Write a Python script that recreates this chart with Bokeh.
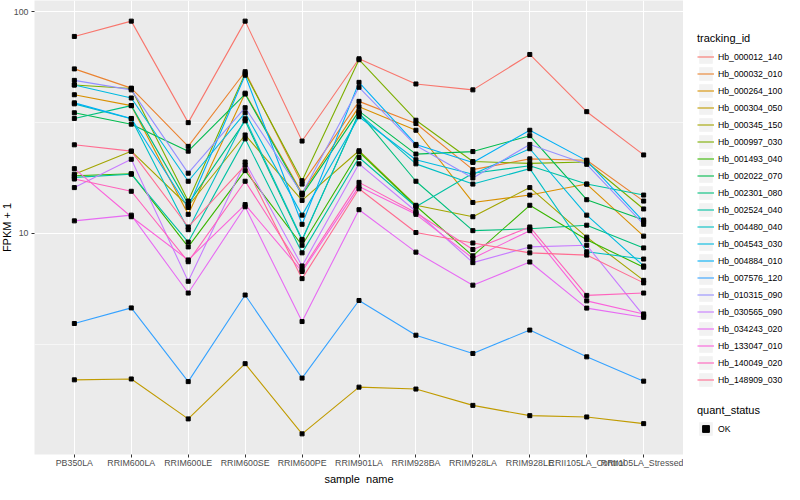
import math
from bokeh.plotting import figure
from bokeh.layouts import row
from bokeh.models import (FactorRange, Range1d, FixedTicker, Legend, LegendItem,
                          PrintfTickFormatter, Title)
from bokeh.embed import file_html
from bokeh.resources import INLINE

samples = ["PB350LA", "RRIM600LA", "RRIM600LE", "RRIM600SE", "RRIM600PE",
           "RRIM901LA", "RRIM928BA", "RRIM928LA", "RRIM928LE",
           "RRII105LA_Control", "RRII105LA_Stressed"]

tracking_ids = ["Hb_000012_140", "Hb_000032_010", "Hb_000264_100", "Hb_000304_050",
                "Hb_000345_150", "Hb_000997_030", "Hb_001493_040", "Hb_002022_070",
                "Hb_002301_080", "Hb_002524_040", "Hb_004480_040", "Hb_004543_030",
                "Hb_004884_010", "Hb_007576_120", "Hb_010315_090", "Hb_030565_090",
                "Hb_034243_020", "Hb_133047_010", "Hb_140049_020", "Hb_148909_030"]

colors = ["#F8766D", "#EA8331", "#D89000", "#C09B00", "#A3A500", "#7CAE00", "#39B600",
          "#00BB4E", "#00BF7D", "#00C1A3", "#00BFC4", "#00BAE0", "#00B0F6", "#35A2FF",
          "#9590FF", "#C77CFF", "#E76BF3", "#FA62DB", "#FF62BC", "#FF6C91"]

# FPKM + 1 per sample, one list per tracking_id
Hb_000012_140 = [77.3, 90.6, 31.6, 90.6, 26.1, 61.3, 47.2, 44.4, 64.1, 35.4, 22.6]
Hb_000032_010 = [55.2, 45.2, 24.7, 53.6, 16.7, 39.4, 31.3, 19.4, 21.7, 21.4, 14.0]
Hb_000264_100 = [42.2, 37.7, 12.2, 42.9, 15.2, 37.3, 29.2, 13.8, 14.9, 16.7, 9.73]
Hb_000304_050 = [2.19, 2.21, 1.46, 2.59, 1.25, 2.03, 1.99, 1.68, 1.51, 1.49, 1.39]
Hb_000345_150 = [18.5, 23.5, 13.3, 27.8, 14.1, 23.6, 13.4, 11.9, 16.1, 9.63, 6.15]
Hb_000997_030 = [46.7, 45.0, 14.0, 52.6, 17.3, 60.7, 32.4, 21.1, 20.7, 21.0, 12.9]
Hb_001493_040 = [18.2, 18.6, 8.70, 19.2, 8.85, 23.3, 13.3, 7.93, 13.4, 9.38, 7.05]
Hb_002022_070 = [35.0, 31.1, 23.5, 42.5, 14.9, 35.6, 22.8, 23.4, 27.6, 14.2, 11.5]
Hb_002301_080 = [33.0, 37.7, 13.6, 32.2, 9.31, 35.0, 17.2, 10.3, 10.5, 10.9, 8.61]
Hb_002524_040 = [17.9, 18.5, 9.15, 26.7, 8.18, 22.0, 13.2, 18.7, 20.2, 16.7, 14.9]
Hb_004480_040 = [38.4, 32.9, 10.4, 32.9, 9.41, 34.7, 20.6, 16.7, 19.6, 8.27, 7.67]
Hb_004543_030 = [46.7, 40.8, 17.2, 35.0, 12.1, 33.6, 21.5, 18.5, 24.1, 12.1, 7.14]
Hb_004884_010 = [38.8, 33.0, 13.1, 51.7, 11.0, 48.0, 25.2, 20.9, 29.2, 21.3, 11.3]
Hb_007576_120 = [3.93, 4.62, 2.15, 5.28, 2.23, 4.99, 3.48, 2.88, 3.67, 2.78, 2.16]
Hb_010315_090 = [49.0, 44.4, 18.7, 36.9, 15.1, 45.6, 24.9, 17.8, 25.2, 20.5, 11.0]
Hb_030565_090 = [16.1, 21.6, 6.09, 21.0, 7.14, 20.6, 12.6, 7.39, 8.70, 8.85, 4.26]
Hb_034243_020 = [11.4, 12.1, 5.39, 13.2, 4.01, 12.8, 8.24, 5.85, 7.44, 4.61, 4.19]
Hb_133047_010 = [19.6, 11.9, 7.60, 13.5, 6.74, 16.3, 12.2, 7.73, 10.3, 4.97, 4.34]
Hb_140049_020 = [17.6, 15.5, 7.46, 17.2, 6.86, 17.0, 12.4, 8.47, 10.7, 5.26, 5.39]
Hb_148909_030 = [25.1, 23.5, 10.7, 20.3, 6.26, 15.9, 10.1, 9.06, 8.18, 7.99, 5.99]

series = [Hb_000012_140, Hb_000032_010, Hb_000264_100, Hb_000304_050, Hb_000345_150,
          Hb_000997_030, Hb_001493_040, Hb_002022_070, Hb_002301_080, Hb_002524_040,
          Hb_004480_040, Hb_004543_030, Hb_004884_010, Hb_007576_120, Hb_010315_090,
          Hb_030565_090, Hb_034243_020, Hb_133047_010, Hb_140049_020, Hb_148909_030]

y_breaks = [10, 100]
quant_status = ["OK"]

FONT = "Liberation Sans"

all_vals = [v for s in series for v in s]
lo, hi = math.log10(min(all_vals)), math.log10(max(all_vals))
pad = (hi - lo) * 0.05
y_range = Range1d(10 ** (lo - pad), 10 ** (hi + pad))

p = figure(width=683, height=484,
           x_range=FactorRange(*samples, range_padding=0.2, range_padding_units="absolute"),
           y_range=y_range, y_axis_type="log",
           output_backend="svg", toolbar_location=None,
           min_border_left=0, min_border_right=0, min_border_top=0, min_border_bottom=0,
           background_fill_color="#EBEBEB", border_fill_color="white",
           outline_line_color=None)

p.xgrid.grid_line_color = "white"
p.xgrid.grid_line_width = 1.1
p.ygrid.grid_line_color = "white"
p.ygrid.grid_line_width = 1.1
p.ygrid.minor_grid_line_color = "white"
p.ygrid.minor_grid_line_width = 0.55
p.yaxis.ticker = FixedTicker(ticks=y_breaks,
                             minor_ticks=[10 ** (math.log10(b) - 0.5) for b in y_breaks])
p.yaxis.formatter = PrintfTickFormatter(format="%d")

for ax in (p.xaxis, p.yaxis):
    ax.axis_line_color = None
    ax.major_tick_line_color = "#333333"
    ax.major_tick_out = 3
    ax.major_tick_in = 0
    ax.minor_tick_line_color = None
    ax.major_label_text_font = FONT
    ax.major_label_text_font_size = "8.8px"
    ax.major_label_text_color = "#4D4D4D"
    ax.axis_label = None
p.xaxis.major_label_standoff = 0
p.yaxis.major_label_standoff = 2

for text, side, so in (("sample_name", "below", 0), ("FPKM + 1", "left", -4)):
    p.add_layout(Title(text=text, align="center", standoff=so, offset=0,
                       text_font=FONT, text_font_size="11px", text_font_style="normal",
                       text_color="black"), side)

line_renderers = []
for vals, col in zip(series, colors):
    line_renderers.append(p.line(x=samples, y=vals, line_color=col, line_width=1.1))

xs = [s for vals in series for s in samples]
ys = [v for vals in series for v in vals]
p.scatter(x=xs, y=ys, marker="square", size=4, color="black")

# ---- legend panel (keys only: glyphs with no drawable data) ----
lp = figure(width=101, height=484, x_range=Range1d(0, 1), y_range=Range1d(0, 1),
            x_axis_location=None, y_axis_location=None,
            output_backend="svg", toolbar_location=None,
            min_border_left=0, min_border_right=0, min_border_top=0, min_border_bottom=0,
            background_fill_color="white", border_fill_color="white",
            outline_line_color=None)
lp.grid.visible = False

nan = [float("nan")]
bg = lp.quad(left=nan, right=nan, top=nan, bottom=nan, fill_color="#F2F2F2", line_color=None)
key_lines = [lp.line(x=nan, y=nan, line_color=c, line_width=1.1) for c in colors]
key_pt = lp.scatter(x=nan, y=nan, marker="square", color="black")


def style_legend(lg):
    lg.title_text_font = FONT
    lg.title_text_font_size = "11px"
    lg.title_text_font_style = "normal"
    lg.title_text_color = "black"
    lg.title_standoff = 4
    lg.label_text_font = FONT
    lg.label_text_font_size = "8.7px"
    lg.label_text_color = "black"
    lg.label_standoff = 4
    lg.label_height = 17
    lg.label_width = 10
    lg.glyph_width = 17
    lg.glyph_height = 17
    lg.spacing = 0
    lg.padding = 0
    lg.margin = 0
    lg.border_line_color = None
    lg.background_fill_alpha = 0


leg1 = Legend(items=[LegendItem(label=n, renderers=[bg, r])
                     for n, r in zip(tracking_ids, key_lines)],
              location=(14, 66), title="tracking_id")
style_legend(leg1)
lp.add_layout(leg1)

leg2 = Legend(items=[LegendItem(label=quant_status[0], renderers=[bg, key_pt])],
              location=(14, 17), title="quant_status")
style_legend(leg2)
lp.add_layout(leg2)

layout = row(p, lp)
open("out.html", "w").write(file_html(layout, INLINE))
